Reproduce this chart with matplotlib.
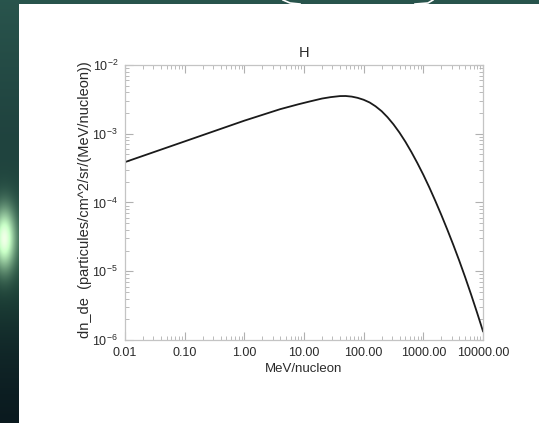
import numpy as np
import matplotlib
matplotlib.use("Agg")
import matplotlib.pyplot as plt
from matplotlib.patches import Rectangle
from matplotlib.ticker import FixedLocator, FixedFormatter, LogLocator, NullFormatter

# Differential flux of hydrogen versus kinetic energy per nucleon
energy = [0.01, 0.1, 1, 2, 4, 8, 12.5, 20, 28, 40, 50, 63, 79, 100, 126,
          158, 200, 251, 316, 398, 501, 631, 794, 1000, 1259, 1585, 1995,
          2512, 3162, 3981, 5012, 6310, 7943, 10000]
flux = [3.87e-4, 7.74e-4, 1.55e-3, 1.88e-3, 2.28e-3, 2.68e-3, 2.95e-3,
        3.25e-3, 3.41e-3, 3.53e-3, 3.54e-3, 3.47e-3, 3.33e-3, 3.12e-3,
        2.85e-3, 2.51e-3, 2.13e-3, 1.74e-3, 1.37e-3, 1.04e-3, 7.64e-4,
        5.42e-4, 3.75e-4, 2.53e-4, 1.66e-4, 1.06e-4, 6.64e-5, 4.07e-5,
        2.45e-5, 1.44e-5, 8.24e-6, 4.60e-6, 2.51e-6, 1.34e-6]

xticks = [0.01, 0.1, 1, 10, 100, 1000, 10000]
xtick_labels = ["0.01", "0.10", "1.00", "10.00", "100.00", "1000.00", "10000.00"]
yticks = [1e-6, 1e-5, 1e-4, 1e-3, 1e-2]
ytick_labels = [r"$10^{-6}$", r"$10^{-5}$", r"$10^{-4}$", r"$10^{-3}$", r"$10^{-2}$"]

title = "H"
xlabel = "MeV/nucleon"
ylabel = "dn_de  (particules/cm^2/sr/(MeV/nucleon))"

plt.rcParams["font.family"] = ["Liberation Sans", "DejaVu Sans"]
plt.rcParams["mathtext.fontset"] = "custom"
plt.rcParams["mathtext.rm"] = "Liberation Sans"
plt.rcParams["mathtext.it"] = "Liberation Sans"

W, H = 539, 423
fig = plt.figure(figsize=(W / 100, H / 100), dpi=100)

# dark starry backdrop around the white panel
bg = fig.add_axes([0, 0, 1, 1], zorder=-10)
bg.set_axis_off()
yy, xx = np.mgrid[0:H, 0:W]
base_top = np.array([0.16, 0.33, 0.30])
base_bot = np.array([0.04, 0.10, 0.12])
t = (yy / H)[..., None]
img = base_top * (1 - t) + base_bot * t
glow = np.exp(-(((xx - 4) / 11.0) ** 2 + ((yy - 238) / 30.0) ** 2))[..., None]
img = img + glow * np.array([0.80, 0.85, 0.65])
haze = np.exp(-(((yy - 250) / 70.0) ** 2))[..., None] * np.array([0.05, 0.12, 0.06])
img = np.clip(img + haze, 0, 1)
bg.imshow(img, extent=[0, W, H, 0], aspect="auto", interpolation="bilinear")
bg.set_xlim(0, W)
bg.set_ylim(H, 0)
bg.add_patch(Rectangle((19, 4), W - 19, H - 4, facecolor="white", edgecolor="none"))
# outlined shape peeking at the top edge
bg.plot([283, 290, 300], [0, 3, 4], color="white", lw=1.2)
bg.plot([415, 428, 433], [4, 3, 0], color="white", lw=1.2)

left, right, top, bottom = 125, 483, 65, 340
ax = fig.add_axes([left / W, 1 - bottom / H, (right - left) / W, (bottom - top) / H])
ax.set_xscale("log")
ax.set_yscale("log")
ax.set_xlim(xticks[0], xticks[-1])
ax.set_ylim(yticks[0], yticks[-1])

ax.plot(energy, flux, color="#1a1a1a", lw=1.3, solid_joinstyle="round")

ax.xaxis.set_major_locator(FixedLocator(xticks))
ax.xaxis.set_major_formatter(FixedFormatter(xtick_labels))
ax.xaxis.set_minor_locator(LogLocator(base=10, subs=np.arange(2, 10)))
ax.xaxis.set_minor_formatter(NullFormatter())
ax.yaxis.set_major_locator(FixedLocator(yticks))
ax.yaxis.set_major_formatter(FixedFormatter(ytick_labels))
ax.yaxis.set_minor_locator(LogLocator(base=10, subs=np.arange(2, 10)))
ax.yaxis.set_minor_formatter(NullFormatter())

for s in ax.spines.values():
    s.set_color("#c4c4c4")
    s.set_linewidth(0.9)
ax.tick_params(which="both", direction="in", top=True, right=True,
               color="#b0b0b0", labelcolor="#2a2a2a", labelsize=9)
ax.tick_params(which="major", length=6, width=0.8, pad=5)
ax.tick_params(which="minor", length=3, width=0.6)

ax.set_title(title, fontsize=10.5, color="#2a2a2a", pad=6)
ax.set_xlabel(xlabel, fontsize=9.5, color="#2a2a2a", labelpad=3)
ax.set_ylabel(ylabel, fontsize=10.5, color="#2a2a2a", labelpad=0)
ax.yaxis.label.set_y(0.51)

fig.savefig("out.png", dpi=100)
